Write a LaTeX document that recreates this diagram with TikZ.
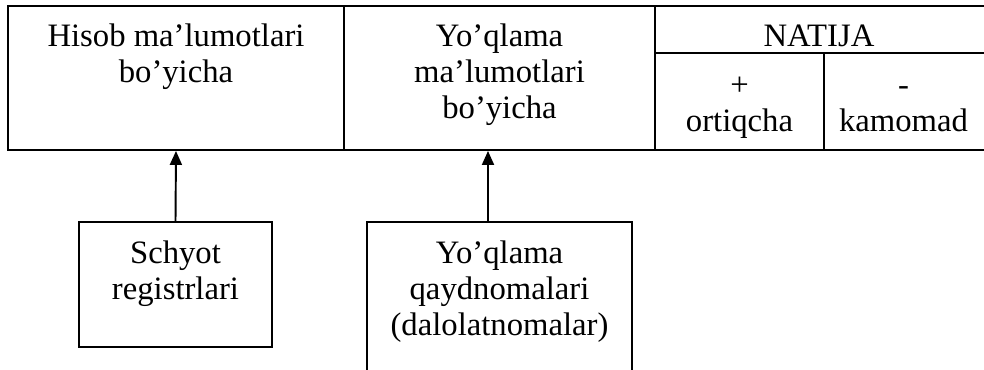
\documentclass[tikz,border=0pt]{standalone}
\usepackage{fontspec}
\setmainfont{Liberation Serif}
\usetikzlibrary{arrows.meta}

\tikzset{
	cell/.style={draw, line width=1.1pt, inner sep=0pt},
	lbl/.style={align=center, anchor=base, inner sep=0pt, font=\fontsize{18.6}{20.6}\selectfont},
	uparrow/.style={line width=1.1pt, -{Triangle[length=0.28cm,width=0.24cm]}}
}

\begin{document}
\begin{tikzpicture}
	\clip (0,0) rectangle (19.68,-7.4);

	%top table
	\node (hisob) at (3.52,-1.56) [cell, minimum width=6.72cm, minimum height=2.88cm]{};
	\node (yoqlama) at (9.99,-1.56) [cell, minimum width=6.22cm, minimum height=2.88cm]{};
	\node (natija) at (16.40,-0.59) [cell, minimum width=6.60cm, minimum height=0.94cm]{};
	\node (ortiq) at (14.79,-2.03) [cell, minimum width=3.38cm, minimum height=1.94cm]{};
	\node (kamom) at (18.09,-2.03) [cell, minimum width=3.22cm, minimum height=1.94cm]{};

	\node (hisobT) at (3.52,-1.66) [lbl]{Hisob ma’lumotlari\\bo’yicha};
	\node (yoqlamaT) at (9.99,-2.38) [lbl]{Yo’qlama\\ma’lumotlari\\bo’yicha};
	\node (natijaT) at (16.38,-0.94) [lbl]{NATIJA};
	\node (ortiqT) at (14.79,-2.64) [lbl]{+\\ortiqcha};
	\node (kamomT) at (18.07,-2.64) [lbl]{-\\kamomad};

	%source documents
	\node (schyot) at (3.51,-5.69) [cell, minimum width=3.86cm, minimum height=2.5cm]{};
	\node (qayd) at (9.99,-6.04) [cell, minimum width=5.30cm, minimum height=3.2cm]{};

	\node (schyotT) at (3.51,-6.0) [lbl]{Schyot\\registrlari};
	\node (qaydT) at (9.99,-6.72) [lbl]{Yo’qlama\\qaydnomalari\\(dalolatnomalar)};

	\draw[uparrow] (schyot.north) -- (hisob.south);
	\draw[uparrow] ([xshift=-0.23cm]qayd.north) -- ([xshift=-0.23cm]yoqlama.south);
\end{tikzpicture}
\end{document}
